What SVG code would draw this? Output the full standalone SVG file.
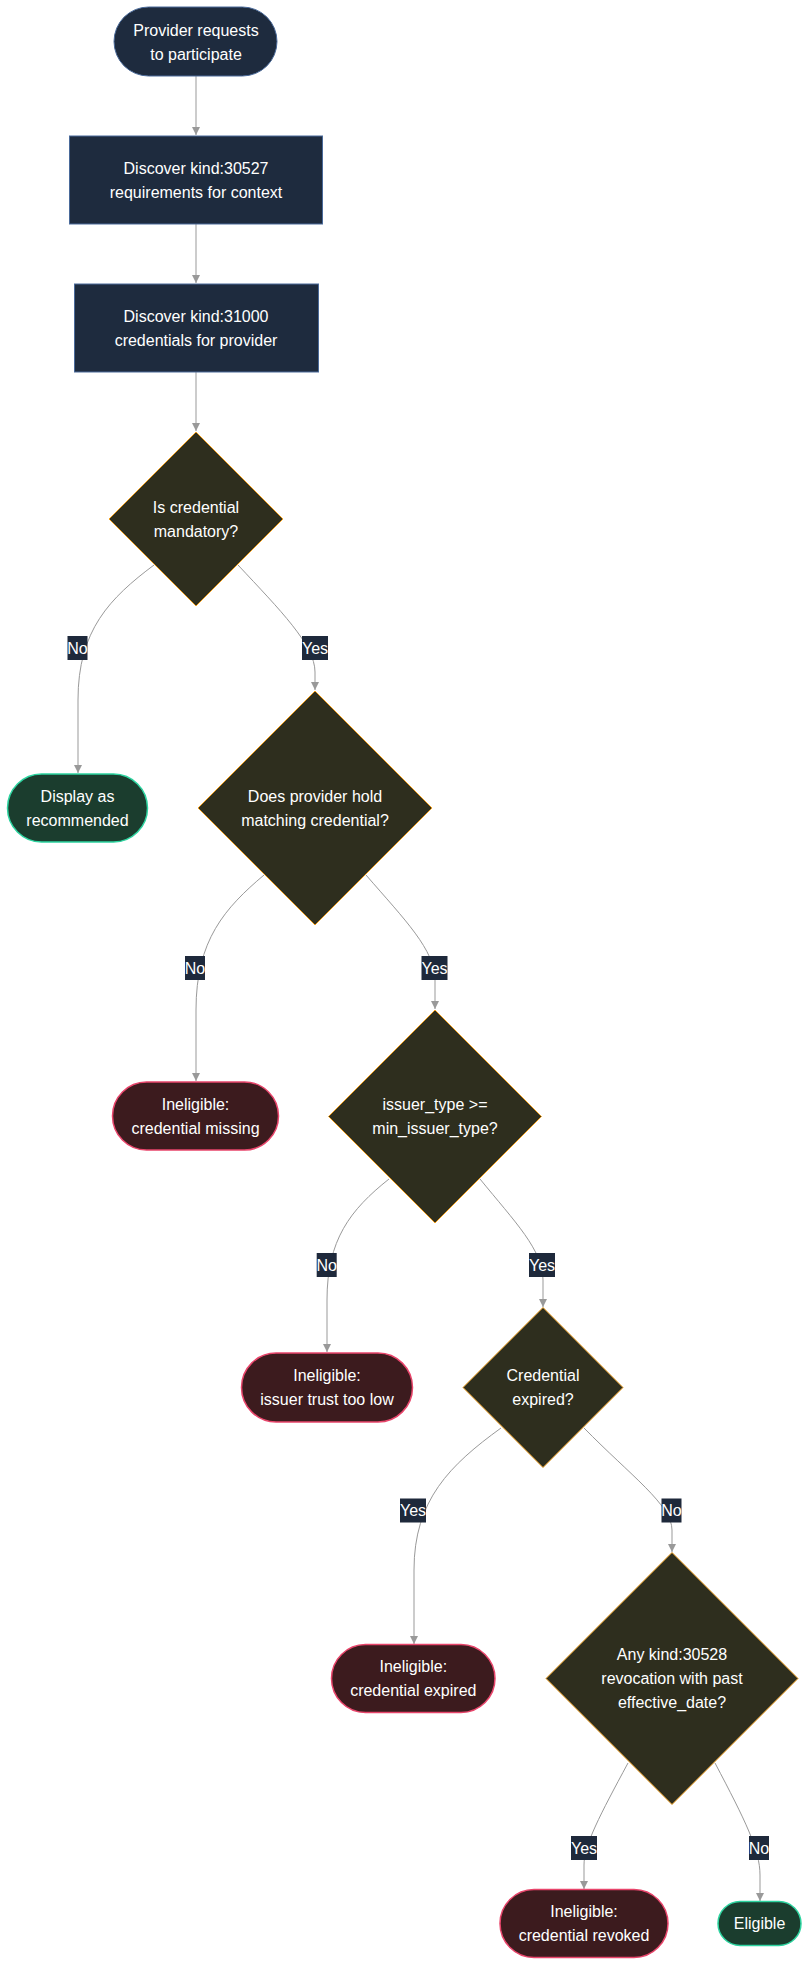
<svg xmlns="http://www.w3.org/2000/svg" width="809" height="1966" viewBox="0 0 809 1966">
<style>
text{font-family:"Liberation Sans",Arial,sans-serif;font-size:16px;fill:#ffffff;text-anchor:middle}
.nav{fill:#1e2b3e;stroke:#4a6a9a;stroke-width:1}
.dia{fill:#2e2e1e;stroke:#f0a020;stroke-width:1}
.grn{fill:#1b3d2e;stroke:#2dd4a0;stroke-width:1.5}
.red{fill:#3c1b1e;stroke:#e8456b;stroke-width:1.5}
.edge{fill:none;stroke:#999999;stroke-width:1;marker-end:url(#arr)}
.lbl{fill:#1e293b}
</style>
<defs>
<marker id="arr" markerUnits="userSpaceOnUse" markerWidth="8" markerHeight="8" refX="8" refY="4" orient="auto">
<path d="M0,0 L8,4 L0,8 z" fill="#999999"/>
</marker>
</defs>
<rect width="809" height="1966" fill="#ffffff"/>
<g id="edges">
<path class="edge" d="M196,76 L196,135"/>
<path class="edge" d="M196,224 L196,283"/>
<path class="edge" d="M196,372 L196,431"/>
<path class="edge" d="M154,565 C110,598 78,630 78,700 L78,773"/>
<path class="edge" d="M238,565 C280,610 315,645 315,672 L315,690"/>
<path class="edge" d="M264,875 C225,908 196,940 196,1010 L196,1081"/>
<path class="edge" d="M366,875 C405,920 435,950 435,980 L435,1009"/>
<path class="edge" d="M389,1179 C350,1210 327,1240 327,1300 L327,1352"/>
<path class="edge" d="M480,1179 C515,1222 543,1250 543,1280 L543,1307"/>
<path class="edge" d="M501,1428 C450,1465 414,1500 414,1570 L414,1644"/>
<path class="edge" d="M584,1428 C630,1475 672,1505 672,1530 L672,1552"/>
<path class="edge" d="M628,1763 C600,1815 584,1845 584,1865 L584,1889"/>
<path class="edge" d="M715,1763 C745,1820 760,1850 760,1875 L760,1901"/>
<g id="edge-labels">
<rect class="lbl" x="67.5" y="636" width="20" height="24"/><text x="77.5" y="653.5">No</text>
<rect class="lbl" x="302" y="636" width="26" height="24"/><text x="315" y="653.5">Yes</text>
<rect class="lbl" x="185" y="956" width="20" height="24"/><text x="195" y="973.5">No</text>
<rect class="lbl" x="421.5" y="956" width="26" height="24"/><text x="434.5" y="973.5">Yes</text>
<rect class="lbl" x="316.7" y="1253" width="20" height="24"/><text x="326.7" y="1270.5">No</text>
<rect class="lbl" x="529" y="1253" width="26" height="24"/><text x="542" y="1270.5">Yes</text>
<rect class="lbl" x="400" y="1498.5" width="26" height="24"/><text x="413" y="1516">Yes</text>
<rect class="lbl" x="661.5" y="1498.5" width="20" height="24"/><text x="671.5" y="1516">No</text>
<rect class="lbl" x="571" y="1836" width="26" height="24"/><text x="584" y="1853.5">Yes</text>
<rect class="lbl" x="749" y="1836" width="20" height="24"/><text x="759" y="1853.5">No</text>
</g>
</g>
<g id="start">
<rect class="nav" x="114" y="7" width="163" height="69" rx="34.5"/>
<text x="196" y="35.5">Provider requests</text>
<text x="196" y="59.5">to participate</text>
</g>
<g id="discoverReq">
<rect class="nav" x="69.5" y="136" width="253" height="88"/>
<text x="196" y="173.5">Discover kind:30527</text>
<text x="196" y="197.5">requirements for context</text>
</g>
<g id="discoverCred">
<rect class="nav" x="74.5" y="284" width="244" height="88"/>
<text x="196" y="321.5">Discover kind:31000</text>
<text x="196" y="345.5">credentials for provider</text>
</g>
<g id="mandatory">
<polygon class="dia" points="196,432 283,519 196,606 109,519"/>
<text x="196" y="512.5">Is credential</text>
<text x="196" y="536.5">mandatory?</text>
</g>
<g id="recommended">
<rect class="grn" x="7.5" y="774" width="140" height="68" rx="34"/>
<text x="77.5" y="801.5">Display as</text>
<text x="77.5" y="825.5">recommended</text>
</g>
<g id="hold">
<polygon class="dia" points="315,691 432,808 315,925 198,808"/>
<text x="315" y="801.5">Does provider hold</text>
<text x="315" y="825.5">matching credential?</text>
</g>
<g id="missing">
<rect class="red" x="112.5" y="1082" width="166" height="68" rx="34"/>
<text x="195.5" y="1109.5">Ineligible:</text>
<text x="195.5" y="1133.5">credential missing</text>
</g>
<g id="issuerType">
<polygon class="dia" points="435,1010 541.5,1116.5 435,1223 328.5,1116.5"/>
<text x="435" y="1110">issuer_type &gt;=</text>
<text x="435" y="1134">min_issuer_type?</text>
</g>
<g id="trustLow">
<rect class="red" x="241.5" y="1353" width="171" height="69" rx="34.5"/>
<text x="327" y="1381">Ineligible:</text>
<text x="327" y="1405">issuer trust too low</text>
</g>
<g id="expiredQ">
<polygon class="dia" points="543,1307.5 623,1387.5 543,1467.5 463,1387.5"/>
<text x="543" y="1381">Credential</text>
<text x="543" y="1405">expired?</text>
</g>
<g id="expired">
<rect class="red" x="331.5" y="1644.5" width="163.5" height="68" rx="34"/>
<text x="413.3" y="1672">Ineligible:</text>
<text x="413.3" y="1696">credential expired</text>
</g>
<g id="revocationQ">
<polygon class="dia" points="672,1552.5 798,1678.5 672,1804.5 546,1678.5"/>
<text x="672" y="1660">Any kind:30528</text>
<text x="672" y="1684">revocation with past</text>
<text x="672" y="1708">effective_date?</text>
</g>
<g id="revoked">
<rect class="red" x="500" y="1889.5" width="168" height="68" rx="34"/>
<text x="584" y="1917">Ineligible:</text>
<text x="584" y="1941">credential revoked</text>
</g>
<g id="eligible">
<rect class="grn" x="718" y="1901.5" width="83" height="44" rx="22"/>
<text x="759.5" y="1929">Eligible</text>
</g>
</svg>
